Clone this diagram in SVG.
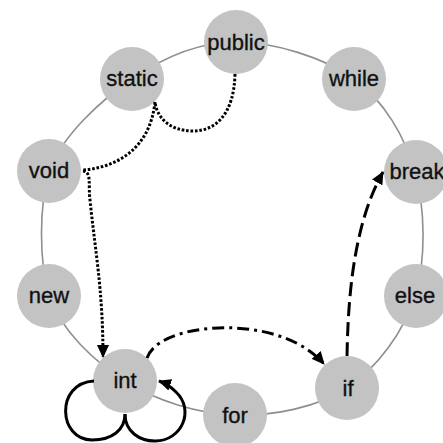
<svg xmlns="http://www.w3.org/2000/svg" width="443" height="443" viewBox="0 0 443 443">
<style>
.ring{fill:none;stroke:#8e8e8e;stroke-width:1.6}
.node circle{fill:#c3c3c3}
.node text{font-family:"Liberation Sans",Arial,sans-serif;font-size:22px;fill:#111;stroke:#111;stroke-width:0.35;text-anchor:middle}
.e{fill:none;stroke:#000;stroke-width:3}
.dot{stroke-dasharray:2.6 1.8;stroke-width:3}
.dashdot{stroke-dasharray:12 5 3 5}
.dash{stroke-dasharray:14 6}
</style>
<defs>
<marker id="ah" viewBox="0 0 13 12" markerWidth="13" markerHeight="12" refX="12" refY="6" orient="auto" markerUnits="userSpaceOnUse">
<path d="M0,0 L13,6 L0,12 z" fill="#000"/>
</marker>
</defs>
<rect width="443" height="443" fill="#fff"/>
<path class="ring" d="M236,42 C273,42 324.2,57.3 354,79 C383.8,100.7 404.8,135.8 415,172 C425.2,208.2 426.3,260 415,296 C403.7,332 377,368.2 347,388 C317,407.8 272,416.2 235,415 C198,413.8 156,400.8 125,381 C94,361.2 61.7,331 49,296 C39,261 39,207.2 49,171 C62.8,134.8 100.8,100.5 132,79 C163.2,57.5 199,42 236,42 Z"/>
<g id="public" class="node"><circle cx="236" cy="42" r="32"/><text x="236" y="50">public</text></g>
<g id="static" class="node"><circle cx="132" cy="79" r="32"/><text x="132" y="86">static</text></g>
<g id="while" class="node"><circle cx="354" cy="79" r="32"/><text x="354" y="86">while</text></g>
<g id="void" class="node"><circle cx="49" cy="171" r="32"/><text x="49" y="178">void</text></g>
<g id="break" class="node"><circle cx="416" cy="172" r="32"/><text x="417" y="179">break</text></g>
<g id="new" class="node"><circle cx="49" cy="296" r="32"/><text x="49" y="303">new</text></g>
<g id="else" class="node"><circle cx="416" cy="296" r="32"/><text x="415" y="303">else</text></g>
<g id="int" class="node"><circle cx="125" cy="381" r="32"/><text x="125" y="388">int</text></g>
<g id="if" class="node"><circle cx="347" cy="388" r="32"/><text x="348" y="396">if</text></g>
<g id="for" class="node"><circle cx="235" cy="415" r="32"/><text x="235" y="423">for</text></g>
<g id="connectors">
<path class="e dot" d="M235,74 C234,115 215,131 193,131 C170,131 157,118 155,102"/>
<path class="e dot" d="M155,102 C150,150 115,168 82,170"/>
<path class="e dot" d="M83,171 C92,172 88,185 90,200 C95,250 103,290 103,357" marker-end="url(#ah)"/>
<path class="e dashdot" d="M147,358 C155,335 200,326 235,328 C272,330 305,342 324,364" marker-end="url(#ah)"/>
<path class="e dash" d="M347,356 C348,300 353,225 383,172" marker-end="url(#ah)"/>
<path class="e" d="M94,381 C55,383 58,440 92,440 C112,440 125,430 125,414"/>
<path class="e" d="M125,414 C125,432 140,441 155,441 C182,441 195,410 176,392 C170,386 165,383 159,381" marker-end="url(#ah)"/>
</g>
</svg>
